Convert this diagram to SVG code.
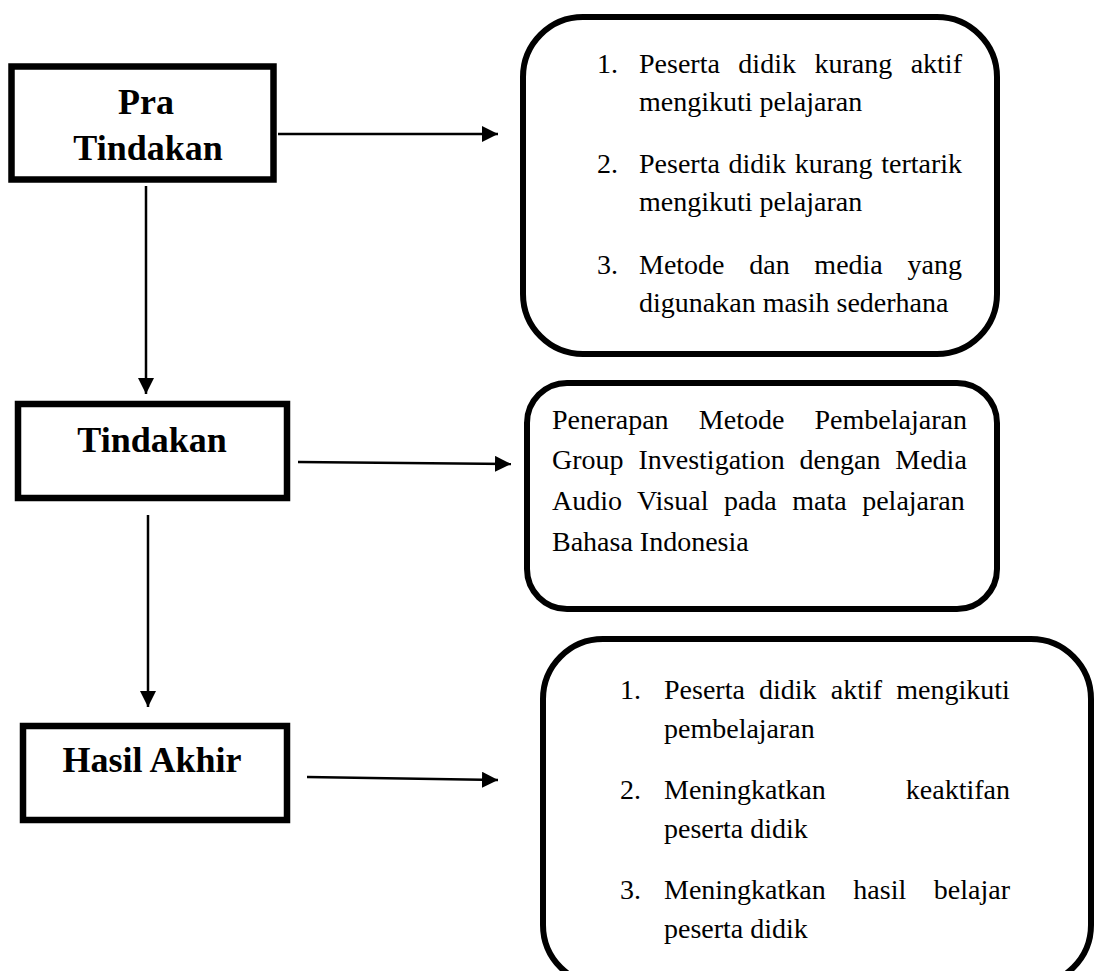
<svg xmlns="http://www.w3.org/2000/svg" width="1094" height="971" viewBox="0 0 1094 971">
<defs>
<marker id="arr" markerWidth="16" markerHeight="16" viewBox="0 0 16 16" refX="16" refY="8" orient="auto" markerUnits="userSpaceOnUse">
<path d="M0,0 L16,8 L0,16 Z" fill="#000"/>
</marker>
<style>
.box{fill:#fff;stroke:#000;stroke-width:6.5}
.rbox{fill:#fff;stroke:#000;stroke-width:6}
.title{font-family:"Liberation Serif","Times New Roman",serif;font-weight:bold;font-size:36px;fill:#000;text-anchor:middle}
.body{font-family:"Liberation Serif","Times New Roman",serif;font-size:28px;fill:#000}
.conn{stroke:#000;stroke-width:2.5;fill:none;marker-end:url(#arr)}
</style>
</defs>
<rect width="1094" height="971" fill="#fff"/>
<g id="connectors">
<line class="conn" x1="278" y1="134" x2="498" y2="134"/>
<line class="conn" x1="146" y1="186" x2="146" y2="394"/>
<line class="conn" x1="298" y1="462" x2="511" y2="464"/>
<line class="conn" x1="148" y1="515" x2="148" y2="707"/>
<line class="conn" x1="307" y1="777" x2="498" y2="780"/>
</g>
<g id="node-pra">
<rect class="box" x="11.5" y="66.5" width="262" height="113"/>
<text class="title" x="146" y="114">Pra</text>
<text class="title" x="148" y="160">Tindakan</text>
</g>
<g id="node-tindakan">
<rect class="box" x="18" y="404" width="269" height="94"/>
<text class="title" x="152" y="452">Tindakan</text>
</g>
<g id="node-hasil">
<rect class="box" x="23" y="726" width="264" height="94"/>
<text class="title" x="152" y="772">Hasil Akhir</text>
</g>
<g id="node-pra-detail">
<rect class="rbox" x="523" y="17" width="474" height="337" rx="60" ry="60"/>
<text class="body" x="597" y="73">1.</text>
<text class="body" x="639" y="73" style="word-spacing:11.5px">Peserta didik kurang aktif</text>
<text class="body" x="639" y="111">mengikuti pelajaran</text>
<text class="body" x="597" y="173">2.</text>
<text class="body" x="639" y="173" style="word-spacing:1.7px">Peserta didik kurang tertarik</text>
<text class="body" x="639" y="211">mengikuti pelajaran</text>
<text class="body" x="597" y="274">3.</text>
<text class="body" x="639" y="274" style="word-spacing:17.7px">Metode dan media yang</text>
<text class="body" x="639" y="312">digunakan masih sederhana</text>
</g>
<g id="node-tindakan-detail">
<rect class="rbox" x="527" y="383" width="470" height="226" rx="40" ry="40"/>
<text class="body" x="552" y="429" style="word-spacing:23.2px">Penerapan Metode Pembelajaran</text>
<text class="body" x="552" y="469" style="word-spacing:7.9px">Group Investigation dengan Media</text>
<text class="body" x="552" y="510" style="word-spacing:8.5px">Audio Visual pada mata pelajaran</text>
<text class="body" x="552" y="551">Bahasa Indonesia</text>
</g>
<g id="node-hasil-detail">
<rect class="rbox" x="543" y="639" width="548" height="346" rx="60" ry="60"/>
<text class="body" x="620" y="699">1.</text>
<text class="body" x="664" y="699" style="word-spacing:7.2px">Peserta didik aktif mengikuti</text>
<text class="body" x="664" y="738">pembelajaran</text>
<text class="body" x="620" y="799">2.</text>
<text class="body" x="664" y="799" style="word-spacing:73.1px">Meningkatkan keaktifan</text>
<text class="body" x="664" y="838">peserta didik</text>
<text class="body" x="620" y="899">3.</text>
<text class="body" x="664" y="899" style="word-spacing:20.6px">Meningkatkan hasil belajar</text>
<text class="body" x="664" y="938">peserta didik</text>
</g>
</svg>
